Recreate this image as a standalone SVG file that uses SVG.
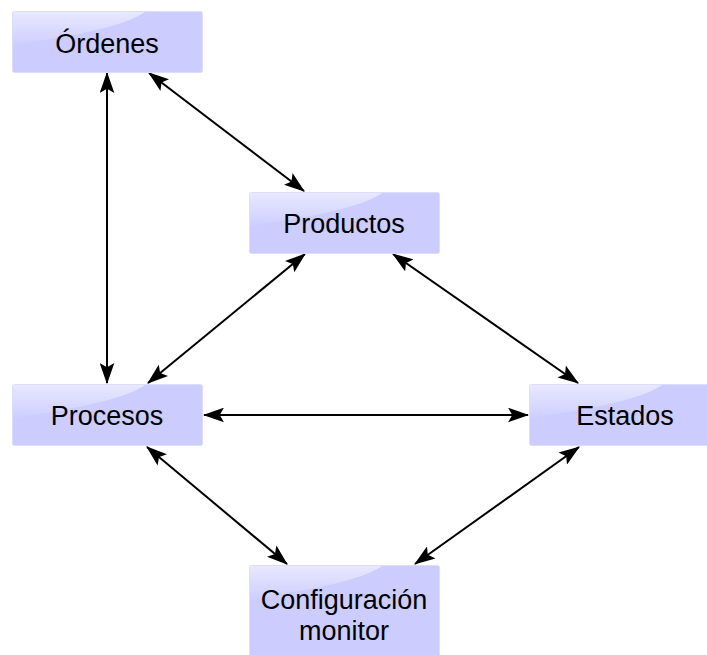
<svg xmlns="http://www.w3.org/2000/svg" width="707" height="655" viewBox="0 0 707 655">
<defs>
<linearGradient id="gloss" x1="0" y1="0" x2="0" y2="1">
<stop offset="0" stop-color="#ffffff" stop-opacity="0.55"/>
<stop offset="1" stop-color="#ffffff" stop-opacity="0.05"/>
</linearGradient>
<marker id="ah" viewBox="0 0 20 14" refX="19" refY="7" markerWidth="21" markerHeight="15" markerUnits="userSpaceOnUse" orient="auto-start-reverse">
<path d="M0,0 L20,7 L0,14 L4,7 Z" fill="#000"/>
</marker>
</defs>
<style>
.box{fill:#ccccff;stroke:#dcdcff;stroke-width:1}
.gl{fill:url(#gloss)}
.t{font-family:"Liberation Sans",Arial,sans-serif;font-size:27px;fill:#000;text-anchor:middle}
.c{stroke:#000;stroke-width:2;fill:none;marker-start:url(#ah);marker-end:url(#ah)}
</style>
<rect width="707" height="655" fill="#fff"/>
<g id="connectors">
<line class="c" x1="107" y1="73" x2="107" y2="383"/>
<line class="c" x1="149" y1="73" x2="304" y2="191"/>
<line class="c" x1="305" y1="254" x2="148" y2="383"/>
<line class="c" x1="393" y1="254" x2="578" y2="383"/>
<line class="c" x1="204" y1="415" x2="528" y2="415"/>
<line class="c" x1="147" y1="447" x2="287" y2="564"/>
<line class="c" x1="579" y1="447" x2="415" y2="564"/>
</g>
<g id="ordenes">
<rect class="box" x="12.5" y="11.5" width="190" height="61" rx="2"/>
<path class="gl" d="M13,12 H145 Q120,30 13,45 Z"/>
<text class="t" x="107" y="53">Órdenes</text>
</g>
<g id="productos">
<rect class="box" x="249.5" y="192.5" width="190" height="61" rx="2"/>
<path class="gl" d="M250,193 H382 Q357,211 250,226 Z"/>
<text class="t" x="344" y="233">Productos</text>
</g>
<g id="procesos">
<rect class="box" x="12.5" y="384.5" width="190" height="61" rx="2"/>
<path class="gl" d="M13,385 H145 Q120,403 13,418 Z"/>
<text class="t" x="107" y="425">Procesos</text>
</g>
<g id="estados">
<rect class="box" x="529.5" y="384.5" width="190" height="61" rx="2"/>
<path class="gl" d="M530,385 H662 Q637,403 530,418 Z"/>
<text class="t" x="625" y="425">Estados</text>
</g>
<g id="config">
<rect class="box" x="249.5" y="565.5" width="190" height="110" rx="2"/>
<path class="gl" d="M250,566 H382 Q357,584 250,599 Z"/>
<text class="t" x="344" y="609">Configuración</text>
<text class="t" x="344" y="640">monitor</text>
</g>
</svg>
